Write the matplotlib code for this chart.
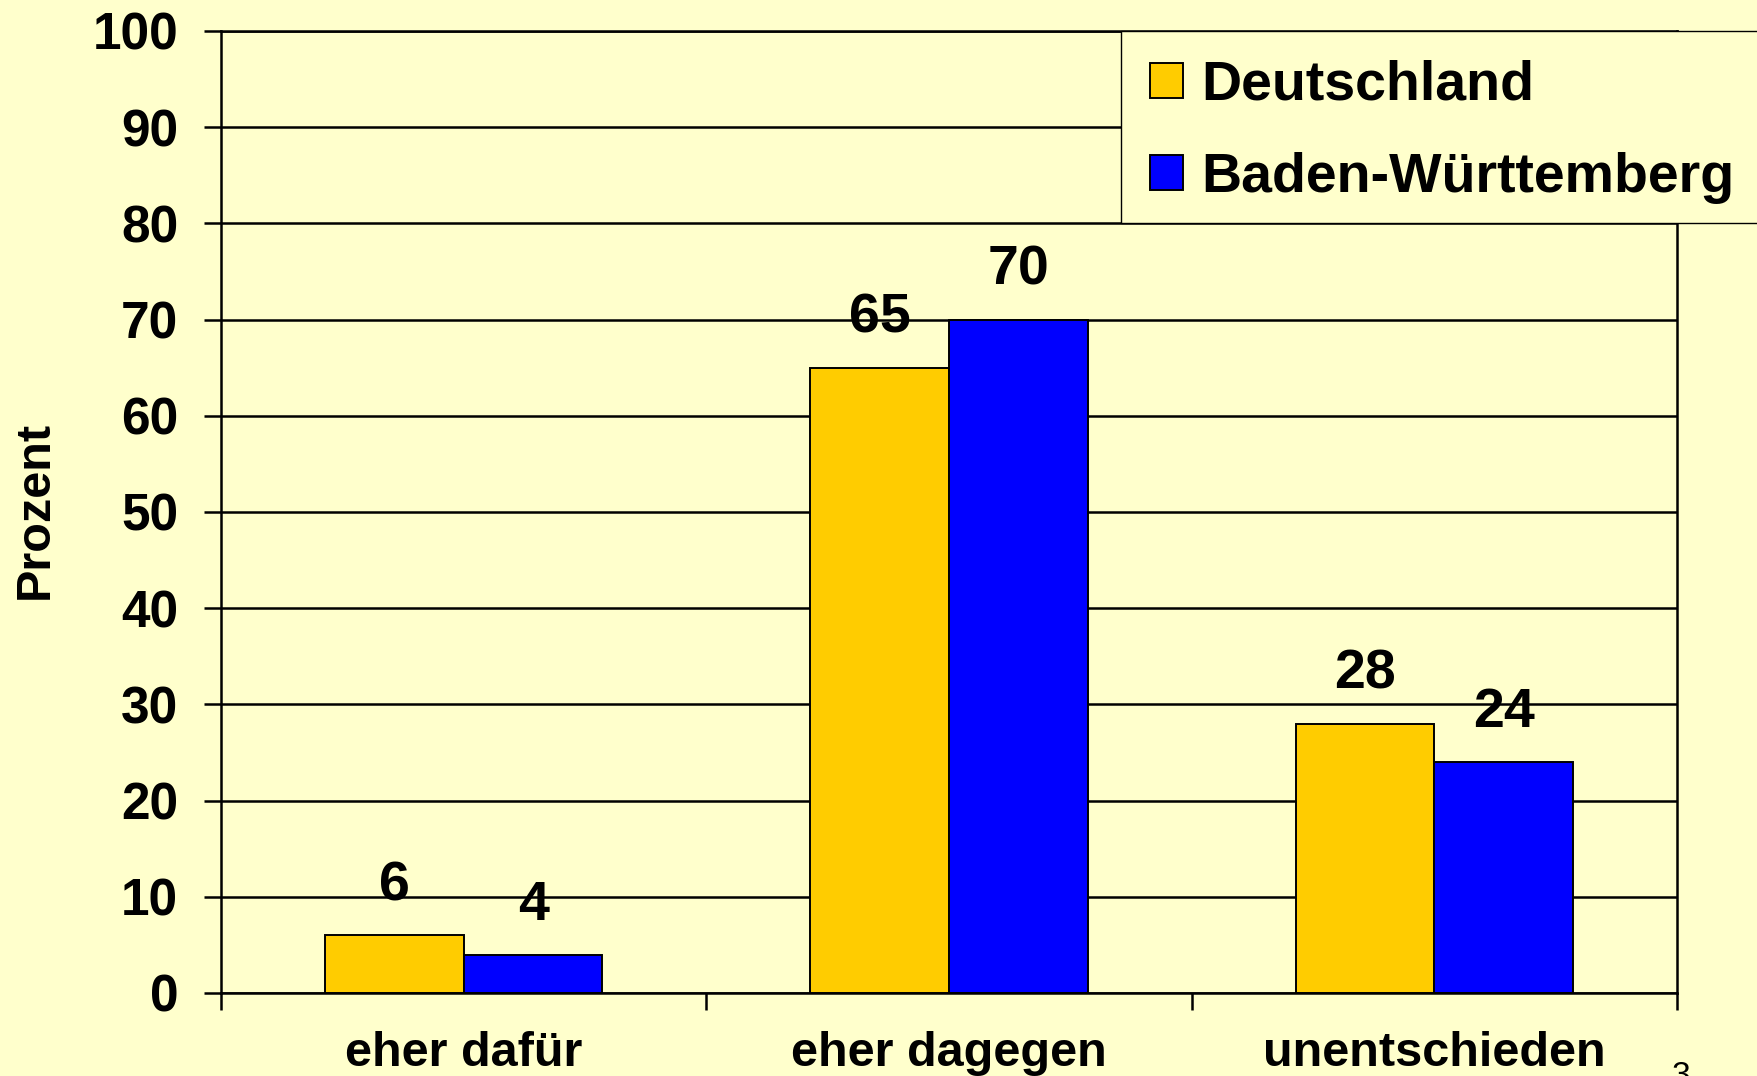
import matplotlib
matplotlib.use("Agg")
import matplotlib.pyplot as plt
from matplotlib.patches import Rectangle
import numpy as np

categories = ["eher dafür", "eher dagegen", "unentschieden"]
series_names = ["Deutschland", "Baden-Württemberg"]
deutschland = [6, 65, 28]
baden_wuerttemberg = [4, 70, 24]
y_ticks = [0, 10, 20, 30, 40, 50, 60, 70, 80, 90, 100]

BG = "#FFFFCC"
GOLD = "#FFCC00"
BLUE = "#0000FF"
FONT = ["Liberation Sans", "DejaVu Sans"]
plt.rcParams["font.family"] = FONT
plt.rcParams["font.weight"] = "bold"

W, H = 1758, 1076
fig = plt.figure(figsize=(W / 100, H / 100), dpi=100, facecolor=BG)
ax_l, ax_r, ax_t, ax_b = 221, 1677, 31, 993
ax = fig.add_axes([ax_l / W, 1 - ax_b / H, (ax_r - ax_l) / W, (ax_b - ax_t) / H])
ax.set_facecolor(BG)

x = np.arange(len(categories))
bw = 0.286
b1 = ax.bar(x - bw / 2, deutschland, bw, color=GOLD, edgecolor="black", linewidth=1.4, zorder=3,
            label=series_names[0])
b2 = ax.bar(x + bw / 2, baden_wuerttemberg, bw, color=BLUE, edgecolor="black", linewidth=1.4, zorder=3,
            label=series_names[1])

for bars, vals in ((b1, deutschland), (b2, baden_wuerttemberg)):
    for rect, v in zip(bars, vals):
        ax.annotate(f"{v}", (rect.get_x() + rect.get_width() / 2, v), xytext=(0, 25),
                    textcoords="offset points", ha="center", va="baseline",
                    fontsize=40, fontweight="bold", color="black", zorder=5)

ax.set_xlim(-0.5, len(categories) - 0.5)
ax.set_ylim(0, 100)
ax.set_yticks(y_ticks)
ax.set_yticklabels([str(t) for t in y_ticks], fontsize=37, fontweight="bold")
ax.yaxis.grid(True, color="black", linewidth=1.8, zorder=1)
ax.set_axisbelow(True)
ax.tick_params(axis="y", direction="out", length=12.2, width=1.8, pad=18.5, colors="black")

ax.set_xticks(np.arange(-0.5, len(categories), 1.0))
ax.set_xticklabels([])
ax.tick_params(axis="x", direction="out", length=12.2, width=1.8)

for s in ax.spines.values():
    s.set_color("black")
    s.set_linewidth(1.8)

# category labels
for i, c in enumerate(categories):
    ax.text(i, (ax_b - 1066) / (ax_b - ax_t), c, transform=ax.get_xaxis_transform(),
            ha="center", va="baseline", fontsize=35, fontweight="bold", clip_on=False)

# y label
fig.text(35 / W, 1 - 510 / H, "Prozent", rotation=90, ha="center", va="center",
         fontsize=35, fontweight="bold")

# legend box
lx0 = (1121 - ax_l) / (ax_r - ax_l)
ax.add_patch(Rectangle((lx0, 0.8), 1.2, 0.2, transform=ax.transAxes, facecolor=BG,
                       edgecolor="black", linewidth=1.0, clip_on=False, zorder=6))
leg = ax.legend(handles=[b1, b2], labels=series_names, loc="upper left",
                bbox_to_anchor=((1150 - ax_l) / (ax_r - ax_l), 1 - 29 / (ax_b - ax_t)),
                frameon=False, prop={"weight": "bold", "size": 40},
                handlelength=0.6, handleheight=0.6, handletextpad=0.33,
                labelspacing=0.72, borderaxespad=0, borderpad=0)
leg.set_zorder(7)

# page number
fig.text(1672 / W, 1 - 1085 / H, "3", ha="left", va="baseline", fontsize=24, fontweight="normal")

fig.savefig("out.png", dpi=100, facecolor=BG)
